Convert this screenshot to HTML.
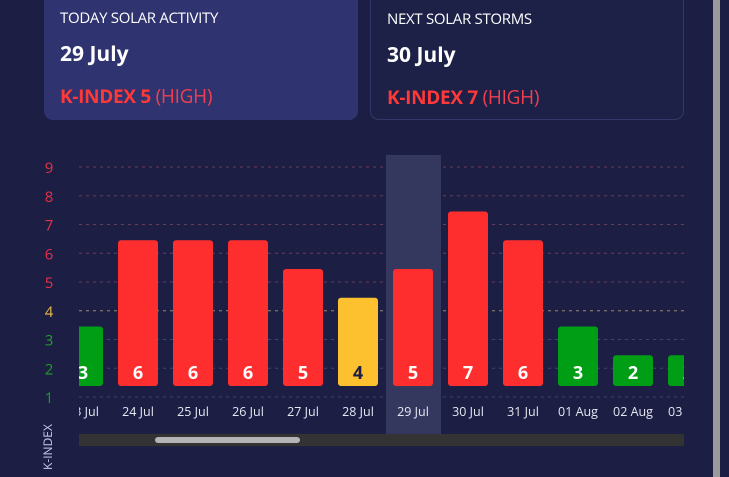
<!DOCTYPE html>
<html><head><meta charset="utf-8"><style>
html,body{margin:0;padding:0;width:729px;height:477px;overflow:hidden;background:#1c1f43;font-family:"Open Sans","DejaVu Sans","Liberation Sans",sans-serif;}
.card{position:absolute;top:-12px;height:132px;border-radius:9px;box-sizing:border-box;color:#fff;}
.c1{left:44px;width:314px;background:#2f336f;}
.c2{left:370px;width:314px;background:#1d2147;border:1px solid #33386a;}
.t{position:absolute;left:16px;top:20px;font-size:15px;letter-spacing:-0.3px;}
.d{position:absolute;left:16px;top:52px;font-size:21px;font-weight:bold;}
.k{position:absolute;left:16px;top:95px;font-size:19px;color:#ff3838;letter-spacing:-0.3px;}
.k b{font-weight:bold}
.k span{color:#f04050}
</style></head><body>
<div class="card c1">
<div class="t">TODAY SOLAR ACTIVITY</div>
<div class="d">29 July</div>
<div class="k"><b>K-INDEX 5</b> <span>(HIGH)</span></div>
</div>
<div class="card c2">
<div class="t">NEXT SOLAR STORMS</div>
<div class="d">30 July</div>
<div class="k"><b>K-INDEX 7</b> <span>(HIGH)</span></div>
</div>
<svg id="chart" width="729" height="477" style="position:absolute;left:0;top:0">
<defs><clipPath id="clip"><rect x="79" y="140" width="605" height="300"/></clipPath></defs>
<rect x="713" y="0" width="7" height="477" fill="#9a9a9a"/>
<g id="grid"></g>
<g id="yticks"></g>
<g id="plot" clip-path="url(#clip)"></g>
<rect x="79" y="434" width="605" height="12" fill="#333333"/>
<rect x="155" y="437" width="145" height="6" rx="3" fill="#b4b4b4"/>
<text x="52" y="470" transform="rotate(-90 52 470)" fill="#c8cbe8" font-size="12" font-family="Open Sans,DejaVu Sans,Liberation Sans,sans-serif">K-INDEX</text>
</svg>
<script>
const categories=["23 Jul","24 Jul","25 Jul","26 Jul","27 Jul","28 Jul","29 Jul","30 Jul","31 Jul","01 Aug","02 Aug","03 Aug"];
const kValues=[3,6,6,6,5,4,5,7,6,3,2,2];
const yTicks=[1,2,3,4,5,6,7,8,9];
const highlightIndex=6;
const NS="http://www.w3.org/2000/svg";
const y=v=>397-(v-1)*28.75;
const x0=63,step=55,bw=40;
const xb=i=>x0+i*step;
const col=v=>v>=5?"#ff2e2e":(v==4?"#fdc02f":"#009e14");
const tcol=v=>v>=5?"#e8304a":(v==4?"#e8b84a":"#1fa02a");
function mk(tag,a,p){const e=document.createElementNS(NS,tag);for(const k in a)e.setAttribute(k,a[k]);p.appendChild(e);return e;}
const grid=document.getElementById('grid'),yt=document.getElementById('yticks'),plot=document.getElementById('plot');
const hl=mk('rect',{x:xb(highlightIndex)-7,y:155,width:55,height:280,fill:"#34385e"},plot);


yTicks.forEach(v=>{
 const l=mk('line',{x1:79,x2:684,y1:y(v),y2:y(v),stroke:v==4?"#9a8a70":(v>=5?"#6a3a5a":"#3e4270"),"stroke-dasharray":"3,4","stroke-width":1},grid);
 
 
 const t=mk('text',{x:49,y:y(v)+6,"text-anchor":"middle",fill:tcol(v),"font-size":15},yt);
 t.textContent=v;
 
 
});
categories.forEach((c,i)=>{
 const v=kValues[i];
 const top=y(v)-13;
 const r=mk('rect',{x:xb(i),y:top,width:bw,height:386-top,rx:3,fill:col(v)},plot);
 
 
 const vt=mk('text',{x:xb(i)+bw/2,y:379,"text-anchor":"middle",fill:v==4?"#1c1f43":"#fff","font-size":18,"font-weight":"bold"},plot);
 vt.textContent=v;
 
 
 const lt=mk('text',{x:xb(i)+bw/2,y:416,"text-anchor":"middle",fill:"#e6e8f4","font-size":12.5},plot);
 lt.textContent=c;
 
 
});
</script>
</body></html>
